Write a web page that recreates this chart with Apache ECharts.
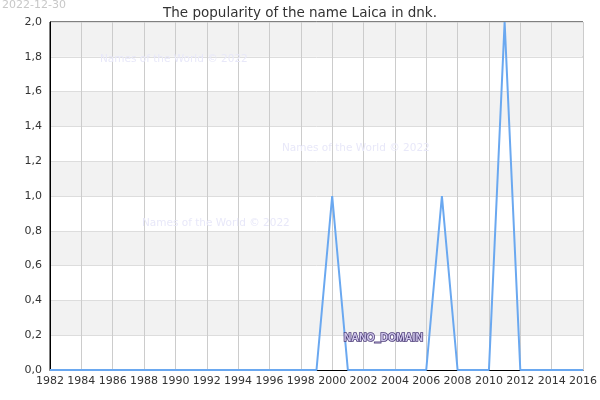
<!DOCTYPE html>
<html>
<head>
<meta charset="utf-8">
<script src="https://cdn.jsdelivr.net/npm/echarts@6/dist/echarts.min.js"></script>
<style>
  html, body { margin: 0; padding: 0; background: #fff; }
  #chart { width: 600px; height: 400px; }
</style>
</head>
<body>
<div id="chart"></div>
<script>
// years and the popularity value for each year
let years = [];
for (let y = 1982; y <= 2016; y++) years.push(y);
let counts = [
    0, 0, 0, 0, 0, 0, 0, 0, 0, 0,   // 1982-1991
    0, 0, 0, 0, 0, 0, 0, 0, 1, 0,   // 1992-2001
    0, 0, 0, 0, 0, 1, 0, 0, 0, 2,   // 2002-2011
    0, 0, 0, 0, 0                   // 2012-2016
];
let yTicks = [0, 0.2, 0.4, 0.6, 0.8, 1.0, 1.2, 1.4, 1.6, 1.8, 2.0];

let chart = echarts.init(document.getElementById('chart'));
let wmStyle = { fill: '#e8e8f9', font: '10.5px "DejaVu Sans"' };

chart.setOption({
    animation: false,
    title: {
        text: 'The popularity of the name Laica in dnk.',
        left: 'center',
        top: 1,
        textStyle: { fontFamily: 'DejaVu Sans', fontSize: 13.5, fontWeight: 'normal', color: '#333' }
    },
    grid: {
        left: 50, right: 15, top: 22, bottom: 30,
        show: true, borderColor: '#000', borderWidth: 1, backgroundColor: 'transparent'
    },
    xAxis: {
        type: 'value',
        min: 1982, max: 2016, interval: 2,
        axisLine: { lineStyle: { color: '#000' } },
        axisTick: { show: false },
        axisLabel: {
            formatter: v => String(v),
            fontFamily: 'DejaVu Sans', fontSize: 11, color: '#333', margin: 6
        },
        splitLine: { show: true, lineStyle: { color: '#ccc' } }
    },
    yAxis: {
        type: 'value',
        min: yTicks[0], max: yTicks[yTicks.length - 1], interval: 0.2,
        axisLine: { show: true, lineStyle: { color: '#000' } },
        axisTick: { show: false },
        axisLabel: {
            formatter: v => v.toFixed(1).replace('.', ','),
            fontFamily: 'DejaVu Sans', fontSize: 11, color: '#333', margin: 8
        },
        splitLine: { show: true, lineStyle: { color: '#ddd' } },
        splitArea: { show: true, areaStyle: { color: ['#fff', '#f2f2f2'] } }
    },
    series: [{
        type: 'line',
        data: years.map((y, i) => [y, counts[i]]),
        symbol: 'none',
        lineStyle: { color: '#6aa8f0', width: 2 }
    }],
    graphic: [
        { type: 'text', left: 2, top: 0, z: 100, style: { text: '2022-12-30', fill: '#c8c8c8', font: '11px "DejaVu Sans"' } },
        { type: 'text', left: 100, top: 54, z: 100, style: Object.assign({ text: 'Names of the World © 2022' }, wmStyle) },
        { type: 'text', left: 282, top: 143, z: 100, style: Object.assign({ text: 'Names of the World © 2022' }, wmStyle) },
        { type: 'text', left: 142, top: 218, z: 100, style: Object.assign({ text: 'Names of the World © 2022' }, wmStyle) },
        {
            type: 'text', left: 343, top: 332, z: 100,
            style: {
                text: 'NANO_DOMAIN', fill: '#cfc6ea', stroke: '#4b3b78', lineWidth: 1.5,
                font: 'bold 10.5px "Liberation Sans"'
            }
        }
    ]
});
</script>
</body>
</html>
